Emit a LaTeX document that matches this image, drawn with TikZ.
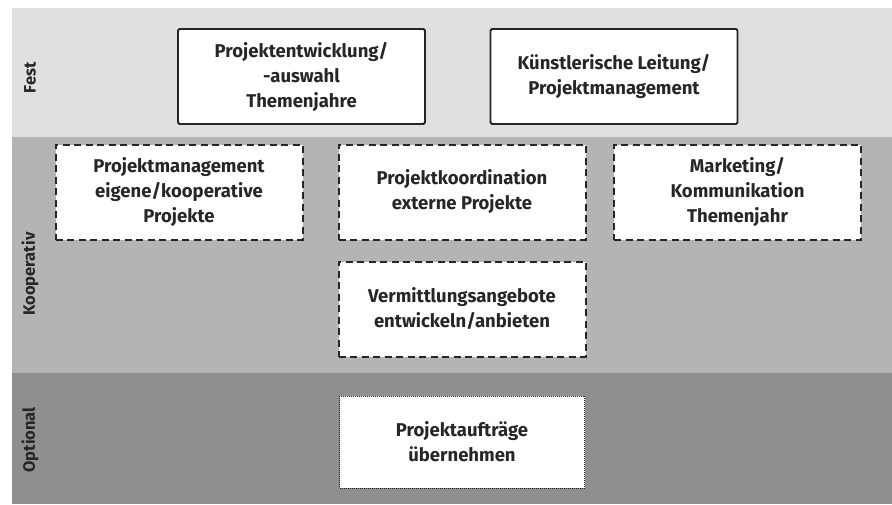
\documentclass[tikz,border=0pt]{standalone}
\usepackage{fontspec}
\setmainfont{Fira Sans}
\usepackage{tikz}
\usetikzlibrary{positioning}

\definecolor{bandfest}{HTML}{E0E0E0}
\definecolor{bandkoop}{HTML}{B4B4B4}
\definecolor{bandopt}{HTML}{8F8F8F}
\definecolor{ink}{HTML}{262626}

\tikzset{
  aufgabe/.style={rectangle, fill=white, text=ink, align=center,
    minimum width=247pt, minimum height=95pt, inner sep=2pt,
    font=\fontsize{18.5}{25}\selectfont\bfseries},
  festbox/.style={aufgabe, draw=ink, line width=1.8pt, rounded corners=1.5pt},
  koopbox/.style={aufgabe, draw=ink, line width=2pt, dash pattern=on 7pt off 4.5pt},
  optbox/.style={aufgabe, draw=ink, line width=1pt, dash pattern=on 1pt off 1pt,
    minimum width=245pt, minimum height=92pt},
  ebene/.style={rotate=90, text=ink, font=\fontsize{16.5}{18}\selectfont\bfseries}
}

\begin{document}
\begin{tikzpicture}[x=1pt, y=-1pt]
\useasboundingbox (0,0) rectangle (892,504);
% Ebenen
\fill [bandfest] (12,8) rectangle (892,137);
\fill [bandkoop] (12,137) rectangle (892,373);
\fill [bandopt] (12,373) rectangle (892,504);
\node [ebene] (fest) at (30,78) {Fest};
\node [ebene] (koop) at (30,274) {Kooperativ};
\node [ebene] (opt) at (30,440) {Optional};

% Fest
\node [festbox] (entw) at (301.5,76.5) {Projektentwicklung/\\-auswahl\\Themenjahre};
\node [festbox] (leitung) at (614,76.5) {Künstlerische Leitung/\\Projektmanagement};

% Kooperativ
\node [koopbox] (pm) at (179,192) {Projektmanagement\\eigene/kooperative\\Projekte};
\node [koopbox] (koord) at (462,192) {Projektkoordination\\externe Projekte};
\node [koopbox] (mark) at (737.5,192) {Marketing/\\Kommunikation\\Themenjahr};
\node [koopbox] (verm) at (462,309) {Vermittlungsangebote\\entwickeln/anbieten};

% Optional
\node [optbox] (auftr) at (462,442) {Projektaufträge\\übernehmen};
\end{tikzpicture}
\end{document}
